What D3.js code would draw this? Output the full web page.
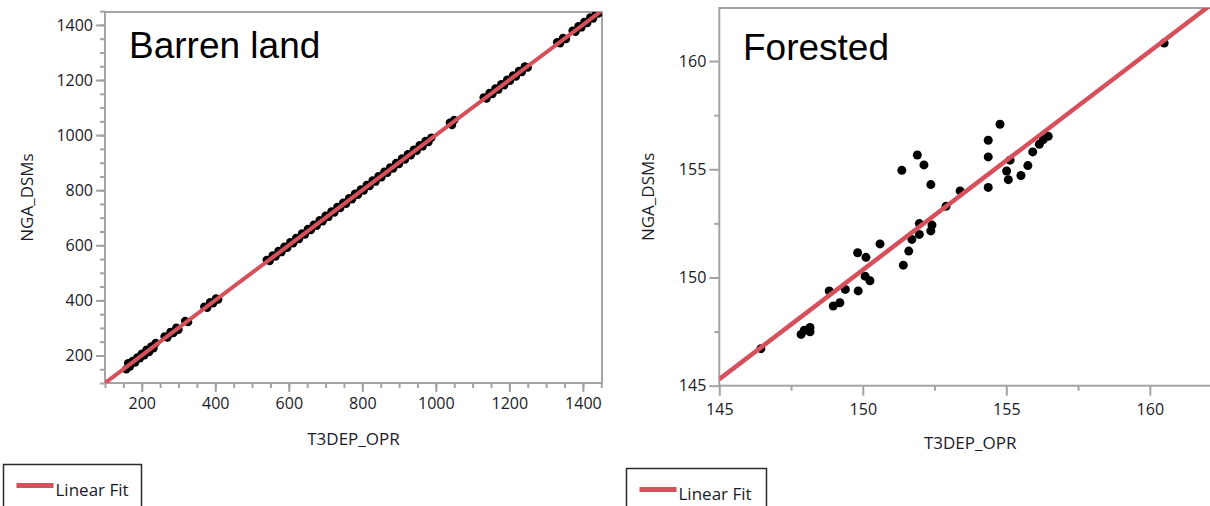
<!DOCTYPE html>
<html>
<head>
<meta charset="utf-8">
<script src="https://cdn.jsdelivr.net/npm/d3@7"></script>
<style>
  body { margin: 0; background: #fff; }
  svg { display: block; }
  .tick text { font-family: "Open Sans", sans-serif; font-size: 16px; fill: #1a1a28; }
  .axis-title { font-family: "Open Sans", sans-serif; font-size: 17px; fill: #1a1a28; }
  .panel-title { font-family: "Liberation Sans", Arial, sans-serif; font-size: 37px; fill: #000; }
  .legend-text { font-family: "Open Sans", sans-serif; font-size: 17px; fill: #1a1a28; }
</style>
</head>
<body>
<svg id="chart" width="1210" height="506"></svg>
<script>
// Barren land: T3DEP_OPR vs NGA_DSMs (clusters along the 1:1 line)
var barrenX = [158, 163, 168, 175, 182, 188, 195, 200, 207, 213, 220, 226, 232, 238,
  262, 270, 278, 286, 294, 300, 318, 326,
  370, 378, 386, 394, 402, 408,
  540, 548, 556, 564, 572, 580, 588, 596, 604, 612, 620, 628, 636, 644, 652, 660, 668, 676,
  684, 692, 700, 708, 716, 724, 732, 740, 748, 756, 764, 772, 780, 788, 796, 804, 812, 820,
  828, 836, 844, 852, 860, 868, 876, 884, 892, 900, 908, 916, 924, 932, 940, 948, 956, 964,
  972, 980, 988,
  1038, 1044, 1050,
  1130, 1138, 1146, 1154, 1162, 1170, 1178, 1186, 1194, 1202, 1210, 1218, 1226, 1234, 1242, 1250,
  1330, 1338, 1346, 1354, 1372, 1380, 1388, 1396, 1404, 1412, 1420, 1428, 1436, 1442];
var barrenY = [150, 172, 160, 180, 174, 193, 190, 206, 201, 221, 212, 233, 226, 245,
  269, 265, 285, 281, 301, 293, 325, 321,
  377, 373, 393, 389, 407, 403,
  547, 543, 563, 559, 579, 575, 595, 591, 611, 607, 627, 623, 643, 639, 659, 655, 675, 671,
  691, 687, 707, 703, 723, 719, 739, 735, 755, 751, 771, 767, 787, 783, 803, 799, 819, 815,
  835, 831, 851, 847, 867, 863, 883, 879, 899, 895, 915, 911, 931, 927, 947, 943, 963, 959,
  979, 975, 991,
  1045, 1037, 1055,
  1137, 1133, 1153, 1149, 1169, 1165, 1185, 1181, 1201, 1197, 1217, 1213, 1233, 1229, 1249, 1245,
  1337, 1333, 1353, 1349, 1379, 1375, 1395, 1391, 1411, 1407, 1427, 1423, 1443, 1441];

// Forested: T3DEP_OPR vs NGA_DSMs
var forestX = [146.45, 147.85, 147.96, 148.16, 148.16, 148.83, 148.97, 149.2, 149.39,
  149.84, 149.82, 150.11, 150.08, 150.25, 151.41, 150.6,
  151.36, 151.9, 152.13, 152.37, 152.9, 151.97, 152.41, 152.37, 151.97, 151.71, 151.6,
  153.39, 154.78, 154.37, 154.37, 154.37,
  155.13, 155.01, 155.07, 155.51, 155.75, 155.92, 156.15, 156.29, 156.46, 160.5];
var forestY = [146.71, 147.37, 147.56, 147.69, 147.49, 149.38, 148.68, 148.83, 149.45,
  149.38, 151.14, 150.93, 150.06, 149.85, 150.57, 151.55,
  154.95, 155.66, 155.2, 154.29, 153.29, 152.49, 152.42, 152.15, 151.99, 151.76, 151.22,
  154.0, 157.08, 156.34, 155.57, 154.16,
  155.42, 154.92, 154.52, 154.71, 155.17, 155.8, 156.15, 156.37, 156.52, 160.83];

// linear fits [intercept, slope]
var barrenFit = [0, 1];
var forestFit = [-1.15, 1.01];

var barrenTicks = [200, 400, 600, 800, 1000, 1200, 1400];
var forestTicks = [145, 150, 155, 160];

var xTitle = "T3DEP_OPR", yTitle = "NGA_DSMs", legendLabel = "Linear Fit";

var axisGrey = "#a3a3a3", fitColor = "#d6505c";

var svg = d3.select("#chart");

function drawPanel(p) {
    var x = d3.scaleLinear().domain(p.xDomain).range(p.xRange);
    var y = d3.scaleLinear().domain(p.yDomain).range(p.yRange);
    var g = svg.append("g");

    var clipId = "clip-" + p.id;
    g.append("clipPath").attr("id", clipId)
        .append("rect")
        .attr("x", p.xRange[0]).attr("y", p.yRange[1])
        .attr("width", p.xRange[1] - p.xRange[0])
        .attr("height", p.yRange[0] - p.yRange[1]);

    // frame
    g.append("rect")
        .attr("x", p.xRange[0]).attr("y", p.yRange[1])
        .attr("width", p.xRange[1] - p.xRange[0])
        .attr("height", p.yRange[0] - p.yRange[1])
        .attr("fill", "none").attr("stroke", axisGrey).attr("stroke-width", 2);

    // minor ticks
    g.append("g").attr("transform", "translate(0," + p.yRange[0] + ")")
        .call(d3.axisBottom(x).tickValues(p.minor).tickSize(p.minorLen).tickFormat(""))
        .call(styleAxis);
    g.append("g").attr("transform", "translate(" + p.xRange[0] + ",0)")
        .call(d3.axisLeft(y).tickValues(p.minor).tickSize(p.minorLen).tickFormat(""))
        .call(styleAxis);

    // major ticks
    g.append("g").attr("transform", "translate(0," + p.yRange[0] + ")")
        .call(d3.axisBottom(x).tickValues(p.ticks).tickSize(p.majorLen).tickPadding(p.xPad).tickFormat(d3.format("d")))
        .call(styleAxis);
    g.append("g").attr("transform", "translate(" + p.xRange[0] + ",0)")
        .call(d3.axisLeft(y).tickValues(p.ticks).tickSize(p.majorLen).tickPadding(3).tickFormat(d3.format("d")))
        .call(styleAxis);

    var plot = g.append("g").attr("clip-path", "url(#" + clipId + ")");

    plot.selectAll("circle")
        .data(p.xs.map(function(d, i) { return [d, p.ys[i]]; }))
        .enter().append("circle")
        .attr("cx", function(d) { return x(d[0]); })
        .attr("cy", function(d) { return y(d[1]); })
        .attr("r", p.r)
        .attr("fill", "#000");

    var line = d3.line()
        .x(function(d) { return x(d); })
        .y(function(d) { return y(p.fit[0] + p.fit[1] * d); });
    plot.append("path")
        .datum(p.xDomain)
        .attr("d", line)
        .attr("fill", "none")
        .attr("stroke", fitColor)
        .attr("stroke-width", p.fitWidth);

    g.append("text").attr("class", "panel-title")
        .attr("x", p.titlePos[0]).attr("y", p.titlePos[1])
        .text(p.title);

    g.append("text").attr("class", "axis-title")
        .attr("x", (p.xRange[0] + p.xRange[1]) / 2).attr("y", p.xTitleY)
        .attr("text-anchor", "middle")
        .text(xTitle);

    g.append("text").attr("class", "axis-title")
        .attr("transform", "translate(" + p.yTitleX + "," + (p.yRange[0] + p.yRange[1]) / 2 + ") rotate(-90)")
        .attr("text-anchor", "middle")
        .text(yTitle);

    // legend
    var lg = g.append("g");
    lg.append("rect")
        .attr("x", p.legend[0]).attr("y", p.legend[1])
        .attr("width", p.legend[2]).attr("height", 60)
        .attr("fill", "#fff").attr("stroke", "#2a2a2a").attr("stroke-width", 1.5);
    lg.append("line")
        .attr("x1", p.legend[0] + 13).attr("x2", p.legend[0] + 50)
        .attr("y1", p.legend[1] + 21).attr("y2", p.legend[1] + 21)
        .attr("stroke", fitColor).attr("stroke-width", 5);
    lg.append("text").attr("class", "legend-text")
        .attr("x", p.legend[0] + 52).attr("y", p.legend[1] + 31)
        .text(legendLabel);
}

function styleAxis(sel) {
    sel.select(".domain").remove();
    sel.selectAll(".tick line").attr("stroke", axisGrey).attr("stroke-width", 2);
}

drawPanel({
    id: "barren", title: "Barren land", titlePos: [129, 58],
    xs: barrenX, ys: barrenY, fit: barrenFit, r: 4.2, fitWidth: 4,
    xDomain: [100, 1452], xRange: [105, 602],
    yDomain: [100, 1447], yRange: [383, 12],
    ticks: barrenTicks, minor: d3.range(100, 1451, 50),
    majorLen: 9, minorLen: 5, xPad: 6,
    xTitleY: 445, yTitleX: 33,
    legend: [3.5, 464.5, 138]
});

drawPanel({
    id: "forest", title: "Forested", titlePos: [743, 60],
    xs: forestX, ys: forestY, fit: forestFit, r: 4.5, fitWidth: 4.5,
    xDomain: [145, 162.48], xRange: [719.3, 1221],
    yDomain: [145, 162.45], yRange: [385.7, 8],
    ticks: forestTicks, minor: [147.5, 152.5, 157.5],
    majorLen: 10, minorLen: 5, xPad: 8,
    xTitleY: 449, yTitleX: 654,
    legend: [626.5, 468.5, 140]
});
</script>
</body>
</html>
